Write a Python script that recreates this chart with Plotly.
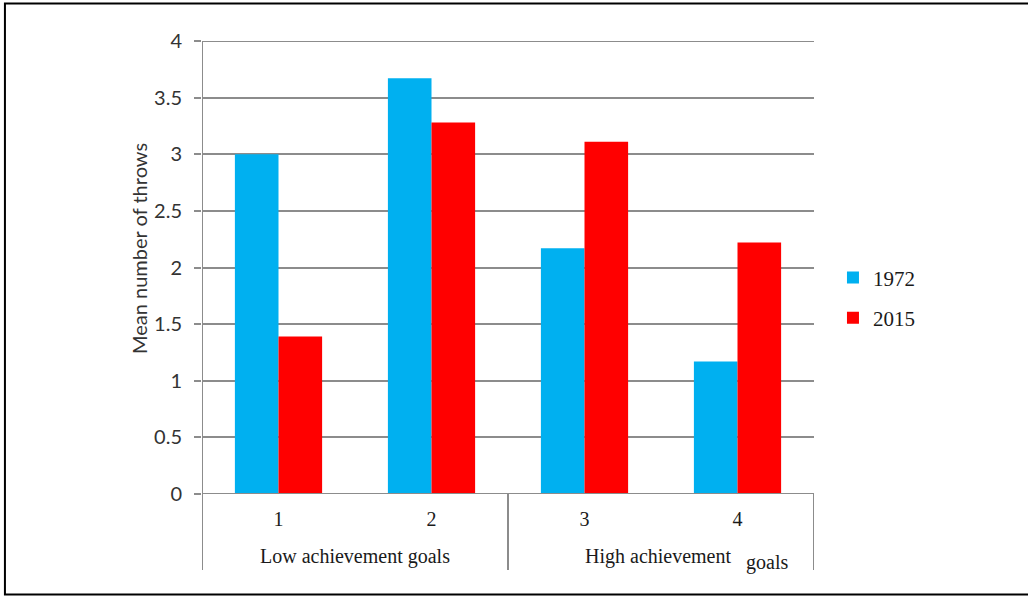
import plotly.graph_objects as go

# Mean number of throws per condition, two cohorts
categories = ["1", "2", "3", "4"]
series_names = ["1972", "2015"]
values_1972 = [3.0, 3.67, 2.17, 1.17]
values_2015 = [1.39, 3.28, 3.11, 2.22]
colors = ["#00B0F0", "#FF0000"]

y_title = "Mean number of throws"
group_low = "Low achievement goals"
group_high_main = "High achievement"
group_high_tail = "goals"

y_ticks = [0, 0.5, 1, 1.5, 2, 2.5, 3, 3.5, 4]
y_tick_text = ["0", "0.5", "1", "1.5", "2", "2.5", "3", "3.5", "4"]

grid_color = "#8C8C8C"
text_color = "#1a1a1a"
serif = "Liberation Serif, Times New Roman, serif"
sans = "Lato, Carlito, Calibri, sans-serif"

fig = go.Figure()
for i, (name, vals) in enumerate(zip(series_names, [values_1972, values_2015])):
    fig.add_trace(go.Bar(
        x=categories, y=vals, name=name,
        marker=dict(color=colors[i], line=dict(width=0)),
        legendgroup=name,
    ))

fig.update_layout(
    width=1028, height=596,
    margin=dict(l=202, r=214, t=41, b=102),
    paper_bgcolor="white", plot_bgcolor="white",
    barmode="group", bargap=0.43, bargroupgap=0,
    showlegend=True,
    legend=dict(
        x=1.031, y=0.433, xanchor="left", yanchor="middle",
        font=dict(family=serif, size=21, color=text_color),
        tracegroupgap=10, itemwidth=30,
        bgcolor="rgba(0,0,0,0)",
    ),
    xaxis=dict(
        type="category", range=[-0.5, 3.5],
        showgrid=False, showline=False, zeroline=False,
        ticks="", tickfont=dict(family=serif, size=20, color=text_color),
        ticklabelstandoff=11,
    ),
    yaxis=dict(
        range=[0, 4], tickvals=y_ticks, ticktext=y_tick_text,
        showgrid=True, gridcolor=grid_color, gridwidth=2,
        zeroline=False, showline=False,
        ticks="outside", ticklen=7, tickcolor=grid_color, tickwidth=2,
        tickfont=dict(family=sans, size=20, color="#333333"),
        ticklabelstandoff=8,
    ),
)

# y axis title, set slightly above the plot's vertical centre
fig.add_annotation(x=-0.103, xref="paper", y=0.543, yref="paper",
                   xanchor="center", yanchor="middle", textangle=-90,
                   text=y_title, showarrow=False,
                   font=dict(family=sans, size=20, color="#333333"))

line = dict(color=grid_color, width=2)
# vertical axis line, extended down through the category label band
fig.add_shape(type="line", xref="x", yref="paper", x0=-0.5, x1=-0.5,
              y0=-0.168, y1=1.0, line=line)
# top gridline and baseline at zero
for yv in (0, 4):
    fig.add_shape(type="line", xref="x", yref="y", x0=-0.5, x1=3.5,
                  y0=yv, y1=yv, line=line)
# group dividers
for xd in (1.5, 3.5):
    fig.add_shape(type="line", xref="x", yref="paper", x0=xd, x1=xd,
                  y0=-0.168, y1=0.0, line=line)

# group labels
label_font = dict(family=serif, size=20, color=text_color)
fig.add_annotation(x=0.5, xref="x", y=-0.139, yref="paper", yanchor="middle",
                   text=group_low, showarrow=False, font=label_font)
fig.add_annotation(x=2.48, xref="x", y=-0.139, yref="paper", yanchor="middle",
                   text=group_high_main, showarrow=False, font=label_font)
fig.add_annotation(x=3.19, xref="x", y=-0.151, yref="paper", yanchor="middle",
                   text=group_high_tail, showarrow=False, font=label_font)

# outer frame
fig.add_shape(type="rect", xref="paper", yref="paper",
              x0=-0.322, x1=1.36, y0=-0.222, y1=1.083,
              line=dict(color="black", width=2), layer="below")

fig.write_html("out.html")
